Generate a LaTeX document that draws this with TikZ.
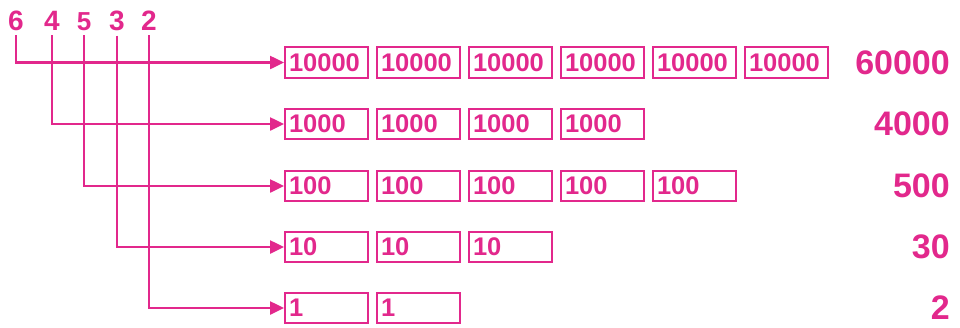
\documentclass[tikz,border=0pt]{standalone}
\usepackage{fontspec}
\setmainfont{Liberation Sans}
\usetikzlibrary{arrows.meta,positioning}
\definecolor{PlacePink}{RGB}{226,40,140}

\begin{document}
\begin{tikzpicture}[x=1pt,y=-1pt,
    unitbox/.style={draw=PlacePink,line width=2pt,text=PlacePink,inner xsep=4pt,inner ysep=0pt,
      text width=75pt,align=left,minimum height=30.5pt,font=\fontsize{25.5}{26}\selectfont\bfseries},
    total/.style={text=PlacePink,inner sep=0pt,font=\fontsize{34}{36}\selectfont\bfseries},
    digit/.style={text=PlacePink,inner sep=0pt},
    link/.style={PlacePink,line width=2.5pt,-{Triangle[length=14pt,width=13pt]}}]
  \useasboundingbox (0,0) rectangle (960,327);
  \foreach \r/\y/\v/\n/\dx/\dsz/\tot in {6/62.5/10000/6/16/28/60000, 4/124/1000/4/52/28/4000,
      5/186/100/5/84/26/500, 3/247/10/3/117/28/30, 2/308/1/2/149/28/2} {
    \node[digit,font=\fontsize{\dsz}{\dsz}\selectfont\bfseries,anchor=base] (D\r) at (\dx,30) {\r};
    \foreach \k in {1,...,\n} {
      \node[unitbox,anchor=west] (B\r-\k) at ({284+92*(\k-1)},\y) {\v};
    }
    \node[total,anchor=east] (T\r) at (950,\y) {\tot};
    \draw[link,shorten <=5pt] (D\r.south) |- (B\r-1.west);
  }
\end{tikzpicture}
\end{document}
